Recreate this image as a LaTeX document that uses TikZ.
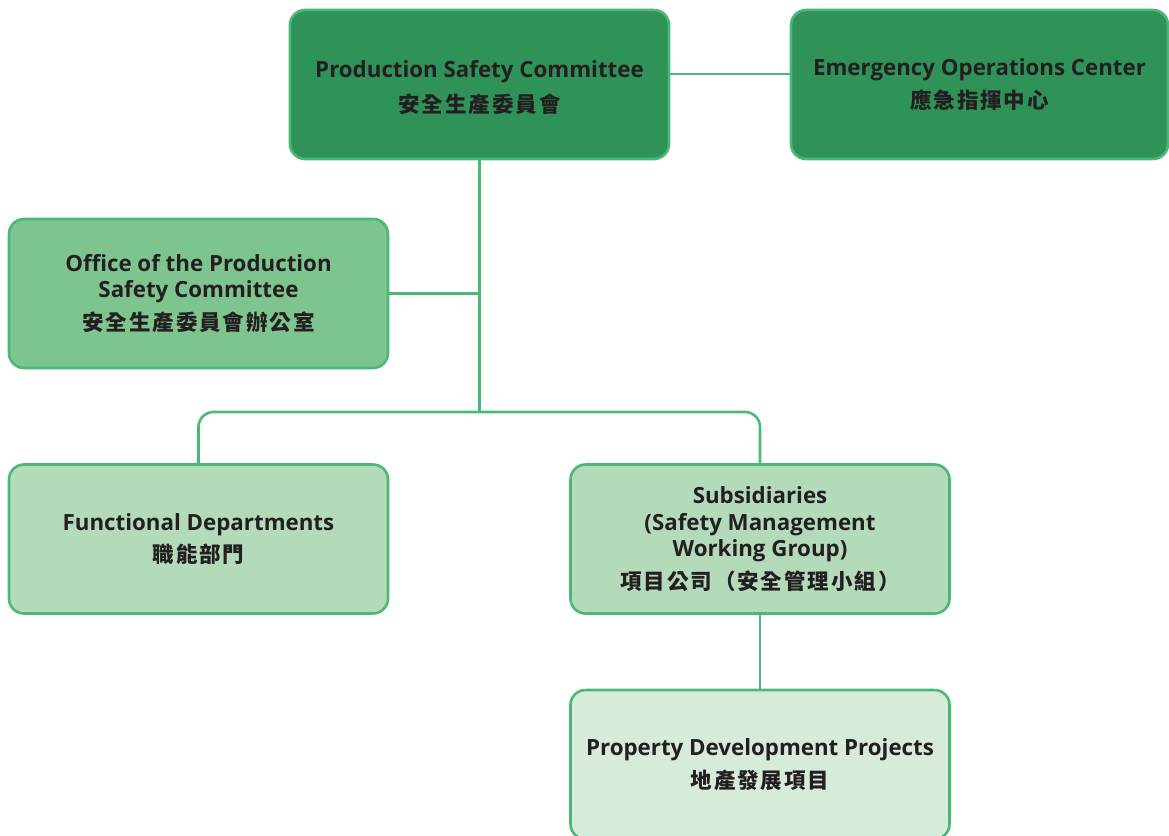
\documentclass[tikz,border=0pt]{standalone}
\usepackage{fontspec}
\setmainfont{Open Sans}
\newfontfamily\cjkf[LetterSpace=9]{Noto Sans CJK TC}
\newcommand\cjk{\cjkf\fontsize{21.5}{26}\selectfont}
\definecolor{lineg}{HTML}{4CB877}
\definecolor{darkg}{HTML}{2E9259}
\definecolor{midg}{HTML}{7DC48E}
\definecolor{lightg}{HTML}{B3DBBA}
\definecolor{palg}{HTML}{D6EBDA}
\definecolor{txt}{HTML}{231F20}
\begin{document}
\begin{tikzpicture}[x=1pt,y=-1pt,
  boxtext/.style={align=center, text=txt, font=\fontsize{22.3}{26.5}\selectfont\bfseries, inner sep=0pt},
  box/.style={boxtext, draw=lineg, line width=2.6pt, rounded corners=15pt, minimum width=379pt, minimum height=149pt},
  conn/.style={draw=lineg, line width=2.6pt, rounded corners=15pt}]
\useasboundingbox (0,0) rectangle (1169,835);
\clip (0,0) rectangle (1169,835);
\node[box, fill=darkg] (psc) at (479.5,84.5) {};
\node[boxtext] (psct) at ([yshift=-3pt]psc.center) {Production Safety Committee\\[8pt]{\cjk 安全生產委員會}};
\node[box, fill=darkg, minimum width=377pt] (eoc) at (979.5,84.5) {Emergency Operations Center\\[6pt]{\cjk 應急指揮中心}};
\node[box, fill=midg] (office) at (198.5,293.5) {Office of the Production\\Safety Committee\\[6pt]{\cjk 安全生產委員會辦公室}};
\node[box, fill=lightg] (func) at (198.5,539) {Functional Departments\\[6pt]{\cjk 職能部門}};
\node[box, fill=lightg] (sub) at (760,539) {Subsidiaries\\(Safety Management\\Working Group)\\[6pt]{\cjk 項目公司（安全管理小組）}};
\node[box, fill=palg] (prop) at (760,764.5) {Property Development Projects\\[6pt]{\cjk 地產發展項目}};
\coordinate (bus) at (479.5,412);
\draw[conn] ([yshift=10.5pt]psc.east) -- ([yshift=10.5pt]eoc.west);
\draw[conn] (psc.south) -- (bus);
\draw[conn] (office.east) -- (office.east -| bus);
\draw[conn] (func.north) |- (bus) -| (sub.north);
\draw[conn] (sub.south) -- (prop.north);
\end{tikzpicture}
\end{document}
